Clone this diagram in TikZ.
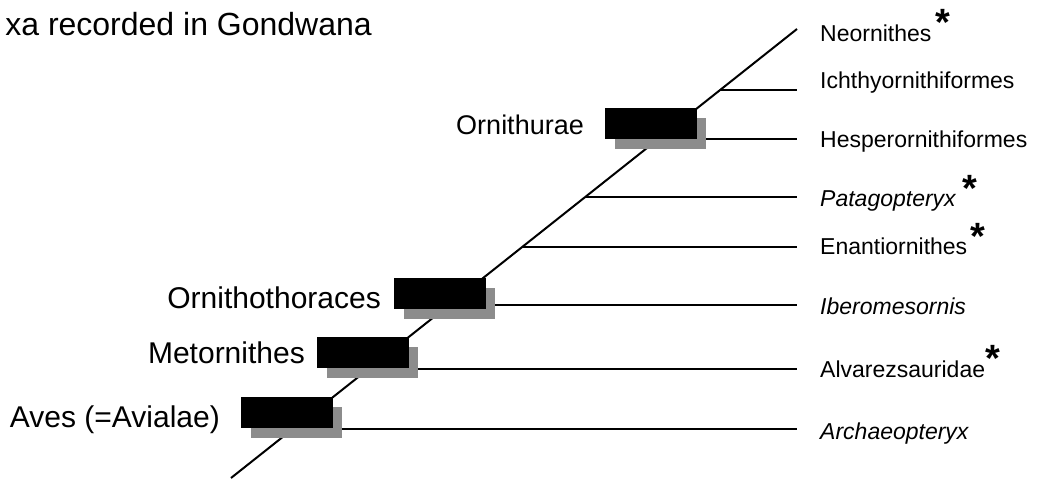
\documentclass[tikz,border=0pt]{standalone}
\usepackage{fontspec}
\setmainfont{Liberation Sans}
\begin{document}
\begin{tikzpicture}[x=1pt,y=-1pt,
  big/.style={font=\fontsize{30}{34}\selectfont, inner sep=0pt},
  taxon/.style={font=\fontsize{23}{26}\selectfont, inner sep=0pt, anchor=base west},
  star/.style={font=\fontsize{38}{40}\selectfont\bfseries, inner sep=0pt, anchor=north},
  ln/.style={line width=2pt, black},
  shadowbox/.style={fill=black!45, draw=none},
  blackbox/.style={fill=black, draw=none}]
\useasboundingbox (0,0) rectangle (1038,481);
% main stem
\coordinate (bot) at (231,478);
\coordinate (top) at (797,29);
\draw[ln] (bot) -- (top);
% branch points
\coordinate (b1) at (720,90);
\coordinate (b2) at (658,139);
\coordinate (b3) at (585,197);
\coordinate (b4) at (522,247);
\coordinate (b5) at (449,305);
\coordinate (b6) at (368,369);
\coordinate (b7) at (293,429);
\coordinate (e1) at (797,90);
\coordinate (e2) at (797,139);
\coordinate (e3) at (797,197);
\coordinate (e4) at (797,247);
\coordinate (e5) at (797,305);
\coordinate (e6) at (797,369);
\coordinate (e7) at (797,429);
\foreach \i in {1,...,7} \draw[ln] (b\i) -- (e\i);
% boxes (top-right corner on the stem)
\foreach \n/\x/\y in {aves/333/397, meto/409/337, ornithoth/486/278, ornithu/697/108}{
  \fill[shadowbox] (\x-82,\y+10) rectangle (\x+9,\y+41);
  \fill[blackbox] (\x-92,\y) rectangle (\x,\y+31);
  \coordinate (\n) at (\x-92,\y+15);
}
% left labels
\node[big, anchor=base east] (tAves) at (220,427) {Aves (=Avialae)};
\node[big, anchor=base east] (tMeto) at (305,363) {Metornithes};
\node[big, anchor=base east] (tOrnth) at (381,308) {Ornithothoraces};
\node[big, anchor=base east, font=\fontsize{27}{30}\selectfont] (tOrnu) at (584,135) {Ornithurae};
\node[anchor=base east, inner sep=0pt, font=\fontsize{32}{36}\selectfont] (title) at (372,36) {xa recorded in Gondwana};
% right labels
\node[taxon] (n1) at (820,42) {Neornithes};
\node[taxon] (n2) at (820,89) {Ichthyornithiformes};
\node[taxon] (n3) at (820,148) {Hesperornithiformes};
\node[taxon] (n4) at (820,206) {\itshape Patagopteryx};
\node[taxon] (n5) at (820,254) {Enantiornithes};
\node[taxon] (n6) at (820,314) {\itshape Iberomesornis};
\node[taxon] (n7) at (820,377) {Alvarezsauridae};
\node[taxon] (n8) at (820,439) {\itshape Archaeopteryx};
% asterisks
\node[star] (s1) at (943,9) {*};
\node[star] (s2) at (970,175) {*};
\node[star] (s3) at (978,223) {*};
\node[star] (s4) at (993,345) {*};
\end{tikzpicture}
\end{document}
